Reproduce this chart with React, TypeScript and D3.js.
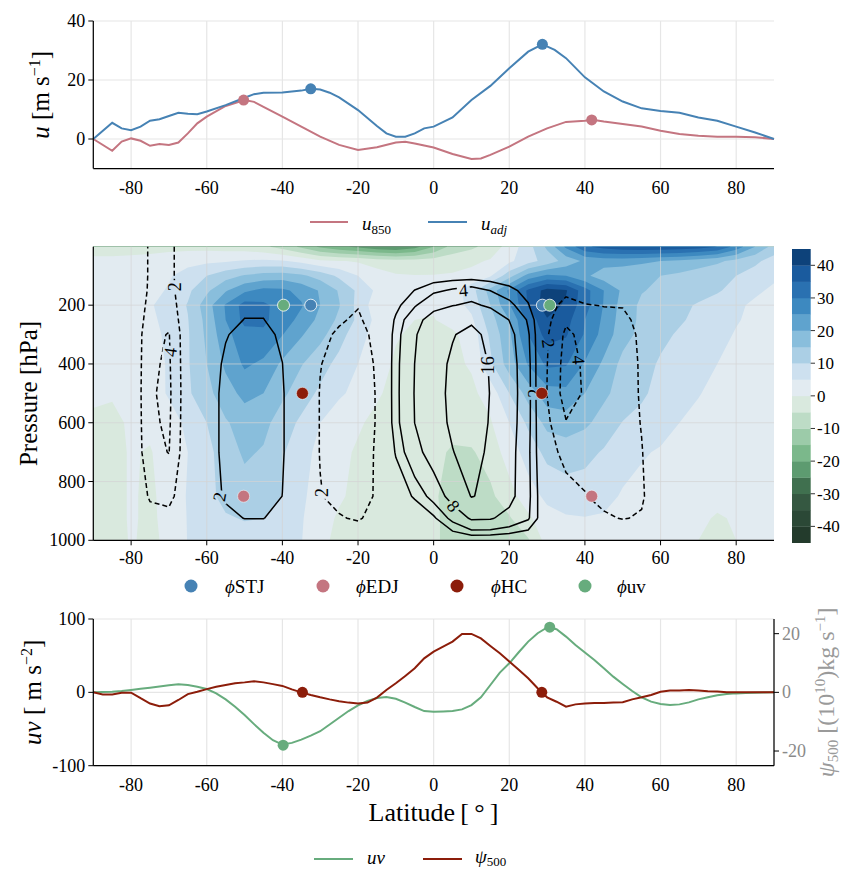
import React from "react";
import * as d3 from "d3";

const FONT = "'Liberation Serif', 'DejaVu Serif', serif";
const W = 845;
const H = 869;

const X_TICKS = [-80, -60, -40, -20, 0, 20, 40, 60, 80];
const TOP_YTICKS = [0, 20, 40];
const MID_YTICKS = [200, 400, 600, 800, 1000];
const BOT_YTICKS = [-100, 0, 100];
const BOT_RTICKS = [-20, 0, 20];
const CB_TICKS = [-40, -30, -20, -10, 0, 10, 20, 30, 40];

const C_U850 = "#c47580";
const C_UADJ = "#4682b4";
const C_HC = "#8c1d0a";
const C_UV = "#67ac7d";

// ---------------- top panel ----------------
const U850_LAT = [-90, -85, -82.5, -80, -77.5, -75, -72.5, -70, -67.5, -65, -62.5, -60, -55, -50, -47.5, -45, -40, -35, -30, -25, -20, -15, -10, -7.5, -5, 0, 5, 10, 12.5, 15, 20, 25, 30, 35, 40, 42, 45, 50, 55, 60, 65, 70, 75, 80, 85, 90];
const U850_VAL = [0, -4.0, -0.9, 0.2, -0.6, -2.3, -1.7, -2.0, -1.2, 1.9, 5.3, 7.6, 11.2, 13.2, 12.6, 10.9, 7.6, 4.2, 0.8, -2.0, -3.7, -2.8, -1.2, -0.9, -1.5, -2.9, -5.1, -6.8, -6.6, -5.4, -2.6, 0.8, 3.6, 5.8, 6.2, 6.5, 5.9, 5.1, 4.2, 2.8, 1.7, 1.1, 0.8, 0.8, 0.6, 0];
const UADJ_LAT = [-90, -85, -82.5, -80, -77.5, -75, -72.5, -70, -67.5, -65, -62.5, -60, -55, -50, -47.5, -45, -40, -35, -32.5, -30, -27.5, -25, -20, -15, -12.5, -10, -7.5, -5, -2.5, 0, 5, 10, 15, 20, 25, 28.75, 32, 35, 40, 45, 50, 55, 60, 65, 70, 75, 80, 85, 90];
const UADJ_VAL = [0, 5.5, 3.6, 3.0, 4.2, 6.2, 6.7, 7.8, 8.9, 8.6, 8.4, 9.3, 11.5, 14.0, 15.2, 15.7, 15.8, 16.4, 17.0, 16.8, 15.7, 14.1, 9.8, 4.4, 1.9, 0.8, 0.8, 1.9, 3.6, 4.2, 7.3, 13.2, 18.0, 24.0, 29.6, 32.1, 30.2, 27.4, 20.9, 16.1, 12.7, 10.4, 9.5, 8.9, 7.3, 6.2, 4.2, 2.2, 0];

const STJ_LAT = [-32.5, 28.75];
const STJ_U = [17.0, 32.1];
const EDJ_LAT = [-50.25, 41.8];
const EDJ_U = [13.2, 6.45];

// ---------------- middle panel ----------------
const STJ_P = 200;
const EDJ_P = 850;
const HC_LAT = [-34.7, 28.6];
const HC_P = 500;
const UVMAX_LAT = [-39.7, 30.7];
const UVMAX_P = 200;

const GRID_LAT = [-90, -85, -80, -75, -70, -65, -60, -55, -50, -45, -40, -35, -30, -25, -20, -15, -10, -5, 0, 5, 10, 15, 20, 25, 30, 35, 40, 45, 50, 55, 60, 65, 70, 75, 80, 85, 90];
const GRID_P = [1, 50, 100, 150, 200, 250, 300, 400, 500, 600, 700, 850, 925, 1000];

// zonal wind (shaded), rows = pressure levels, columns = latitudes
const U_FIELD = [
  [-1, -1, -1.5, -1.5, -1.5, -1.5, -1.5, -2, -2.5, -4, -7, -11, -16, -19, -21, -24, -25, -22, -15, -8, -6, -3, 2, 8, 16, 26, 34, 37, 38.5, 39, 39, 38.5, 37.5, 35, 28, 20, 13],
  [0.5, 0.5, 1, 1.5, 2.5, 3.5, 4, 4.5, 5.5, 6, 5.5, 3.5, 1, 0.3, -0.5, -2, -3, -3, -2.5, -2, -1, 0.5, 4, 8, 12, 17, 21, 22, 22, 21, 20, 19, 17.5, 16, 13.5, 11, 8],
  [1, 1, 1.5, 2.5, 4.5, 7, 10, 13, 15.5, 17, 17.5, 16, 13, 9, 5, 2, 0.5, 0.2, 0.2, 0.5, 1.5, 4.5, 13, 22, 26, 25, 21, 17.5, 16.5, 16, 15, 14, 12.5, 11, 10, 8, 6],
  [1.5, 2, 2.5, 3.5, 5.5, 9, 14, 19.5, 24, 26.5, 26, 23.5, 19.5, 14.5, 9, 4, 1.5, 0.5, 0.5, 2, 8, 17, 26, 36, 42, 40.5, 32, 25, 19, 15.3, 14, 13, 12, 10.5, 8.5, 6, 4],
  [1.5, 2, 3, 4.5, 7, 10.3, 17.7, 25.5, 32, 31, 28, 25.5, 20, 15.3, 8.5, 2, 1, 0.5, 0.5, 2.5, 6.5, 15, 24.5, 35.5, 43, 39, 32, 24.7, 18, 14, 12.5, 11.2, 9.5, 8, 6, 4, 3],
  [1.5, 2, 2.5, 4, 6.5, 9.8, 16.5, 25, 31.5, 31, 27.5, 23.5, 18.5, 14, 9, 3.5, 1, 0, -0.2, 1.5, 4, 13, 20, 31.5, 39.5, 37, 30, 24, 17.5, 14, 12.5, 10.5, 9, 7.5, 5.5, 3.5, 2.5],
  [1.5, 1.5, 2, 3.5, 6, 9.5, 16, 23.5, 28, 29, 25.2, 20.5, 16.5, 12, 7, 3, 0.3, -0.6, -0.8, -0.8, 2, 11, 19, 30, 37, 35.5, 29.5, 23, 17, 13.5, 11, 9.5, 8.5, 7, 4.5, 3.5, 2.5],
  [1, 1, 1.5, 3, 5.5, 9.5, 15, 21, 25.8, 24, 19, 15.3, 12, 8.5, 5, 1.5, -0.5, -1.2, -1.2, -1, 0.5, 9, 17.5, 25.5, 31, 30.5, 24.5, 19, 13.5, 11.5, 9.5, 8.5, 7, 5, 4, 3, 2],
  [0.3, 0.2, 0.8, 2.8, 5.5, 9.2, 13.5, 17.8, 21.5, 20, 16, 12.5, 9, 5.8, 3.5, 0.5, -1.2, -1.8, -2, -2, -1, 2, 10, 17, 23, 23.5, 20, 16, 13, 10.5, 9, 7, 5.2, 4, 3, 2, 1.5],
  [-0.3, -0.5, 0.3, 1, 3, 6, 10, 14.5, 17, 16.5, 12.5, 9, 5, 2, 0.5, -1, -1.8, -2.5, -3, -3.5, -2.5, -0.5, 5, 11, 16.5, 17.5, 16, 13, 9.8, 9, 7, 5, 4, 3, 2.5, 1.5, 1],
  [-0.8, -1, 0.3, -0.3, 2, 5, 8.5, 12.5, 15.8, 14.5, 10.5, 7, 3.5, 1, -0.5, -1.5, -2.5, -3.5, -4, -5.5, -5.5, -3, 2.5, 7, 11.5, 12.5, 11.5, 9.5, 7, 5.5, 4.5, 3.5, 3, 2.5, 2, 1.5, 1],
  [-1, -1, 0.3, -0.5, 1, 5.5, 8.5, 11.5, 12.8, 12.3, 9.8, 6, 2.5, 0.5, -1, -2, -3, -4, -4.5, -6.5, -7, -6, -2, 3, 6, 7.5, 7.5, 6.5, 4.5, 3.5, 3, 2.5, 2, 1.5, 1, 0.5, 0.5],
  [-1, -1, 0.3, -0.5, 0.8, 5.3, 7.5, 9.5, 10.3, 10, 8, 5.5, 1.5, -0.5, -1.5, -2.5, -3, -3.5, -4.5, -6, -7, -7, -5.5, -1, 3.5, 4.5, 4.8, 4.5, 3, 2.5, 2, 1.5, 1, -0.5, 0.5, 0.5, 0.3],
  [-1, -1, 0.2, -0.5, 0.5, 5.2, 7, 7.5, 8, 7.5, 6, 5.2, 1, -1, -2, -2.5, -3, -3.5, -4.5, -6, -7, -7.5, -7, -5.5, 2, 3, 3.5, 3, 2, 1.5, 1, 0.5, 0, -1, 0, 0.2, 0.2],
];

// streamfunction (contours), same grid
const PSI_FIELD = [
  [0, -0.42, 0, -2.28, -2.64, -0.36, 0, 0, 0, 0, 0, 0, 0, 0, 0, 0, 0, 0, 0, 0, 0, 0, 0, 0, 0, 0, 0, 0, 0, 0, 0, 0, 0, 0, 0, 0, 0],
  [0, -0.42, 0, -2.28, -2.64, -0.36, 0, 0, 0, 0, 0, 0, 0, 0, 0, 0, 0, 0, 0, 0, 0, 0, 0, 0, 0, 0, 0, 0, 0, 0, 0, 0, 0, 0, 0, 0, 0],
  [0, -0.42, 0, -2.28, -2.64, -0.36, 0.09, 0.2, 0.27, 0.27, 0.18, 0, -0.17, -0.24, -0.3, -0.14, 0.16, 0.41, 0.7, 0.87, 1.0, 0.79, 0.53, 0.24, -0.2, -0.49, -0.38, -0.35, -0.34, -0.17, 0.02, 0.06, 0.06, 0.04, 0, 0, 0],
  [0, -0.43, 0, -2.36, -2.73, -0.37, 0.28, 0.63, 0.85, 0.85, 0.55, 0, -0.53, -0.75, -0.95, -0.45, 0.78, 2.05, 3.48, 4.33, 4.98, 3.95, 2.63, 1.2, -0.6, -1.47, -1.14, -1.05, -1.02, -0.51, 0.06, 0.18, 0.18, 0.12, 0, 0, 0],
  [0, -0.49, 0, -2.66, -3.08, -0.42, 0.55, 1.25, 1.7, 1.7, 1.1, 0, -1.05, -1.5, -1.9, -0.9, 1.4, 3.69, 6.26, 7.79, 8.96, 7.11, 4.73, 2.16, -1.1, -2.7, -2.09, -1.93, -1.87, -0.94, 0.11, 0.33, 0.33, 0.22, 0, 0, 0],
  [0, -0.56, 0, -3.04, -3.52, -0.48, 0.66, 1.5, 2.04, 2.04, 1.32, 0, -1.26, -1.8, -2.28, -1.08, 2.33, 6.15, 10.4, 13.0, 14.9, 11.9, 7.88, 3.6, -1.5, -3.68, -2.85, -2.63, -2.55, -1.28, 0.15, 0.45, 0.45, 0.3, 0, 0, 0],
  [0, -0.65, 0, -3.53, -4.09, -0.56, 0.83, 1.88, 2.55, 2.55, 1.65, 0, -1.58, -2.25, -2.85, -1.35, 2.79, 7.38, 12.5, 15.6, 17.9, 14.2, 9.45, 4.32, -1.8, -4.41, -3.42, -3.15, -3.06, -1.53, 0.18, 0.54, 0.54, 0.36, 0, 0, 0],
  [0, -0.68, 0, -3.69, -4.27, -0.58, 1.01, 2.3, 3.13, 3.13, 2.02, 0, -1.93, -2.76, -3.5, -1.66, 3.04, 8.04, 13.6, 17.0, 19.5, 15.5, 10.3, 4.7, -1.96, -4.8, -3.72, -3.43, -3.33, -1.67, 0.2, 0.59, 0.59, 0.39, 0, 0, 0],
  [0, -0.7, 0, -3.8, -4.4, -0.6, 1.1, 2.5, 3.4, 3.4, 2.2, 0, -2.1, -3.0, -3.8, -1.8, 3.1, 8.2, 13.9, 17.3, 19.9, 15.8, 10.5, 4.8, -2.05, -4.9, -3.8, -3.5, -3.4, -1.7, 0.2, 0.6, 0.6, 0.4, 0, 0, 0],
  [0, -0.68, 0, -3.69, -4.27, -0.58, 1.1, 2.5, 3.4, 3.4, 2.2, 0, -2.1, -3.0, -3.8, -1.8, 3.04, 8.04, 13.6, 17.0, 19.5, 15.5, 10.3, 4.7, -1.6, -3.9, -3.2, -3.1, -3.1, -1.9, 0.1, 0.5, 0.48, 0.32, 0, 0, 0],
  [0, -0.64, 0, -3.5, -4.05, -0.55, 1.1, 2.5, 3.4, 3.4, 2.2, 0, -2.1, -3.0, -3.8, -1.6, 2.2, 6.2, 10.5, 15.8, 18.5, 14.8, 9.8, 4.5, -1.2, -2.6, -2.8, -2.9, -3.0, -2.1, -0.3, 0.4, 0.42, 0.28, 0, 0, 0],
  [0, -0.42, 0, -2.28, -2.64, -0.36, 0.99, 2.25, 3.06, 3.06, 1.98, 0, -1.89, -2.7, -3.42, -1.62, 0.5, 2.3, 5.0, 10, 16.3, 14.5, 9.5, 4.6, -0.6, -1.3, -1.9, -2.6, -2.8, -2.3, -0.3, 0.3, 0.33, 0.22, 0, 0, 0],
  [0, -0.21, 0, -1.14, -1.32, -0.18, 0.66, 1.5, 2.04, 2.04, 1.32, 0, -1.26, -1.8, -2.28, -1.08, -0.3, 0.2, 1.6, 4.8, 8.6, 8.4, 6.5, 4.3, -0.3, -0.6, -1, -1.7, -2.1, -1.8, -0.2, 0.2, 0.21, 0.14, 0, 0, 0],
  [0, 0, 0, 0, 0, 0, 0, 0, 0, 0, 0, 0, 0, 0, 0, 0, 0, 0, 0, 0, 0, 0, 0, 0, 0, 0, 0, 0, 0, 0, 0, 0, 0, 0, 0, 0, 0],
];

const U_LEVELS = [-45, -40, -35, -30, -25, -20, -15, -10, -5, 0, 5, 10, 15, 20, 25, 30, 35, 40];
const BAND_COLORS = [
  "#233b2c", "#2b4836", "#355841", "#40704f", "#5d9b70", "#7bb88b", "#9ccba9", "#bddcc6", "#d9e9de",
  "#e2ebf1", "#cde0ef", "#abcfe5", "#89bedc", "#5fa3ce", "#3d89c0", "#2a71b1", "#1a5b9e", "#0d427a",
];
const PSI_LEVELS = [-16, -8, -4, -2, 2, 4, 8, 16];

const CL_TEXT = ["2", "4", "2", "2", "4", "16", "8", "2", "4", "2"];
const CL_LAT = [-68.3, -69.6, -56.6, -29.5, 7.9, 14.3, 5.2, 30.3, 38.3, 26.8];
const CL_P = [137, 360, 852, 837, 150, 404, 884, 330, 386, 500];
const CL_ROT = [-90, -82, -80, -90, -5, -90, 50, 82, 85, -90];

// ---------------- bottom panel ----------------
const BOT_LAT = d3.range(-90, 90.01, 2.5);
const UV_VAL = [
  0, 0.4, 0.9, 1.8, 3.2, 4.8, 6.4, 8.0, 9.6, 10.9,
  10.0, 7.7, 4.5, -1.4, -9.6, -19.6, -31, -43.3, -55.2, -65.3,
  -71.2, -68.9, -64.4, -58.9, -53, -43.8, -34.7, -25.5, -17.8, -11.8,
  -7.7, -6.4, -8.7, -14, -20, -25.5, -26.4, -26, -25.5, -23.2,
  -17.3, -6.8, 10, 26.9, 39.6, 54.7, 69.2, 80.6, 88.5, 86,
  76, 64.6, 54.2, 44.2, 32.8, 21.4, 11.4, 1.8, -6.8, -12.7,
  -15.9, -17.3, -16.4, -13.7, -9.6, -6.8, -4.1, -2.3, -1.4, -0.9,
  -0.5, -0.2, 0,
];
const PSI500_VAL = [
  0, -0.7, -0.7, -0.1, -0.1, -2.0, -3.8, -4.7, -4.4, -2.6,
  -0.6, 0.2, 1.1, 1.9, 2.5, 3.1, 3.4, 3.8, 3.4, 2.8,
  2.2, 1.0, 0, -0.9, -1.7, -2.4, -3.0, -3.5, -3.8, -3.5,
  -1.8, 0.8, 3.1, 5.6, 8.2, 11.6, 13.9, 15.6, 17.3, 19.9,
  19.9, 18.4, 15.8, 13.3, 10.5, 7.7, 4.8, 1.4, -1.7, -3.2,
  -4.9, -4.1, -3.8, -3.6, -3.6, -3.5, -3.4, -2.4, -1.7, -0.9,
  0.2, 0.6, 0.6, 0.8, 0.6, 0.4, 0.3, 0, 0, 0,
  0, 0, 0,
];
const UV_MARK_LAT = [-39.8, 30.7];
const UV_MARK_VAL = [-72, 88.8];
const HC_MARK_VAL = [0, 0];

function interpArr(arr: number[], c: number) {
  const i = Math.max(0, Math.min(arr.length - 1, c - 0.5));
  const i0 = Math.floor(i);
  const i1 = Math.min(i0 + 1, arr.length - 1);
  const f = i - i0;
  return arr[i0] + f * (arr[i1] - arr[i0]);
}
function clampIdx(c: number, n: number) {
  return Math.max(0, Math.min(n - 1, c - 0.5));
}

export default function App() {
  const x = d3.scaleLinear().domain([-90, 90]).range([93.3, 774]);
  const yTop = d3.scaleLinear().domain([-10, 40]).range([168.5, 21]);
  const yMid = d3.scaleLinear().domain([1, 1000]).range([246.7, 540.3]);
  const yBotL = d3.scaleLinear().domain([-100, 100]).range([765.7, 619]);
  const yBotR = d3.scaleLinear().domain([-25, 25]).range([765.7, 619]);
  const yCb = d3.scaleLinear().domain([-45, 45]).range([542.7, 249]);

  const nx = GRID_LAT.length;
  const ny = GRID_P.length;
  const px = (cx: number) => x(interpArr(GRID_LAT, cx));
  const py = (cy: number) => yMid(interpArr(GRID_P, cy));

  const uValues = U_FIELD.flat();
  const psiValues = PSI_FIELD.flat();
  const uContours = d3.contours().size([nx, ny]).thresholds(U_LEVELS)(uValues);
  const psiContours = d3.contours().size([nx, ny]).thresholds(PSI_LEVELS)(psiValues);

  const fillPath = (mp: number[][][][]) =>
    mp
      .map((poly) =>
        poly
          .map((ring) => "M" + ring.map(([cx, cy]) => `${px(cx).toFixed(2)},${py(cy).toFixed(2)}`).join("L") + "Z")
          .join("")
      )
      .join("");

  const linePath = (mp: number[][][][]) => {
    let d = "";
    for (const poly of mp) {
      for (const ring of poly) {
        const pts = ring.map(([cx, cy]) => ({
          ix: clampIdx(cx, nx),
          iy: clampIdx(cy, ny),
          X: px(cx),
          Y: py(cy),
        }));
        let pen = false;
        for (let k = 0; k < pts.length - 1; k++) {
          const a = pts[k];
          const b = pts[k + 1];
          const onB =
            (a.ix === 0 && b.ix === 0) ||
            (a.ix === nx - 1 && b.ix === nx - 1) ||
            (a.iy === 0 && b.iy === 0) ||
            (a.iy === ny - 1 && b.iy === ny - 1);
          if (onB) {
            pen = false;
            continue;
          }
          if (!pen) {
            d += `M${a.X.toFixed(2)},${a.Y.toFixed(2)}`;
            pen = true;
          }
          d += `L${b.X.toFixed(2)},${b.Y.toFixed(2)}`;
        }
      }
    }
    return d;
  };

  const topLine = d3.line<[number, number]>().x((d) => x(d[0])).y((d) => yTop(d[1]));
  const botLineL = d3.line<[number, number]>().x((d) => x(d[0])).y((d) => yBotL(d[1]));
  const botLineR = d3.line<[number, number]>().x((d) => x(d[0])).y((d) => yBotR(d[1]));

  const xL = 93.3;
  const xR = 774;
  const tickFs = 18;
  const gridC = "#e6e6e6";

  const xTickLabels = (baseY: number) =>
    X_TICKS.map((t) => (
      <text key={t} x={x(t)} y={baseY} textAnchor="middle" fontSize={tickFs}>
        {t < 0 ? "-" + Math.abs(t) : String(t)}
      </text>
    ));

  return (
    <svg
      width={W}
      height={H}
      style={{ position: "absolute", left: 0, top: 0, background: "#fff" }}
      fontFamily={FONT}
    >
      <defs>
        <mask id="clab" maskUnits="userSpaceOnUse" x={0} y={0} width={W} height={H}>
          <rect x={0} y={0} width={W} height={H} fill="white" />
          {CL_TEXT.map((t, i) => {
            const w = t.length > 1 ? 22 : 13;
            return (
              <rect
                key={i}
                x={-w / 2}
                y={-8}
                width={w}
                height={16}
                fill="black"
                transform={`translate(${x(CL_LAT[i])},${yMid(CL_P[i])}) rotate(${CL_ROT[i]})`}
              />
            );
          })}
        </mask>
      </defs>

      {/* ================= TOP PANEL ================= */}
      <g>
        {X_TICKS.map((t) => (
          <line key={t} x1={x(t)} x2={x(t)} y1={yTop(40)} y2={yTop(-10)} stroke={gridC} strokeWidth={1.2} />
        ))}
        {TOP_YTICKS.map((t) => (
          <line key={t} x1={xL} x2={xR} y1={yTop(t)} y2={yTop(t)} stroke={gridC} strokeWidth={1.2} />
        ))}
        <path d={topLine(d3.zip(U850_LAT, U850_VAL) as [number, number][]) || ""} fill="none" stroke={C_U850} strokeWidth={2} />
        <path d={topLine(d3.zip(UADJ_LAT, UADJ_VAL) as [number, number][]) || ""} fill="none" stroke={C_UADJ} strokeWidth={2} />
        {EDJ_LAT.map((l, i) => (
          <circle key={"e" + i} cx={x(l)} cy={yTop(EDJ_U[i])} r={5.5} fill={C_U850} />
        ))}
        {STJ_LAT.map((l, i) => (
          <circle key={"s" + i} cx={x(l)} cy={yTop(STJ_U[i])} r={5.5} fill={C_UADJ} />
        ))}
        <line x1={xL} x2={xL} y1={yTop(40)} y2={yTop(-10)} stroke="#000" strokeWidth={1.25} />
        <line x1={xL} x2={xR} y1={yTop(-10)} y2={yTop(-10)} stroke="#000" strokeWidth={1.25} />
        {TOP_YTICKS.map((t) => (
          <g key={t}>
            <line x1={xL - 5} x2={xL} y1={yTop(t)} y2={yTop(t)} stroke="#000" strokeWidth={1} />
            <text x={xL - 8} y={yTop(t) + 6} textAnchor="end" fontSize={tickFs}>
              {t}
            </text>
          </g>
        ))}
        {xTickLabels(194)}
        <text transform={`translate(49,${(yTop(40) + yTop(-10)) / 2}) rotate(-90)`} textAnchor="middle" fontSize={25}>
          <tspan fontStyle="italic">u</tspan>
          <tspan> [m s</tspan>
          <tspan dy={-9} fontSize={16}>−1</tspan>
          <tspan dy={9}>]</tspan>
        </text>
        {/* legend */}
        <line x1={310} x2={348} y1={222} y2={222} stroke={C_U850} strokeWidth={2} />
        <text x={362} y={230} fontSize={19}>
          <tspan fontStyle="italic">u</tspan>
          <tspan dy={4} fontSize={13}>850</tspan>
        </text>
        <line x1={428} x2={467} y1={222} y2={222} stroke={C_UADJ} strokeWidth={2} />
        <text x={481} y={230} fontSize={19}>
          <tspan fontStyle="italic">u</tspan>
          <tspan dy={4} fontSize={13} fontStyle="italic">adj</tspan>
        </text>
      </g>

      {/* ================= MIDDLE PANEL ================= */}
      <g>
        {uContours.map((c, i) => (
          <path key={i} d={fillPath(c.coordinates as any)} fill={BAND_COLORS[i]} fillRule="evenodd" stroke="none" />
        ))}
        {X_TICKS.map((t) => (
          <line key={t} x1={x(t)} x2={x(t)} y1={yMid(1)} y2={yMid(1000)} stroke="#d4d4d4" strokeOpacity={0.7} strokeWidth={1} />
        ))}
        {MID_YTICKS.map((t) => (
          <line key={t} x1={xL} x2={xR} y1={yMid(t)} y2={yMid(t)} stroke="#d4d4d4" strokeOpacity={0.7} strokeWidth={1} />
        ))}
        <g mask="url(#clab)">
          {psiContours.map((c, i) => (
            <path
              key={i}
              d={linePath(c.coordinates as any)}
              fill="none"
              stroke="#000"
              strokeWidth={1.5}
              strokeDasharray={PSI_LEVELS[i] < 0 ? "5,3" : undefined}
            />
          ))}
        </g>
        {CL_TEXT.map((t, i) => (
          <text
            key={i}
            transform={`translate(${x(CL_LAT[i])},${yMid(CL_P[i])}) rotate(${CL_ROT[i]})`}
            textAnchor="middle"
            dominantBaseline="central"
            fontSize={18}
          >
            {t}
          </text>
        ))}
        {STJ_LAT.map((l, i) => (
          <circle key={"s" + i} cx={x(l)} cy={yMid(STJ_P)} r={6} fill={C_UADJ} stroke="#fff" strokeWidth={0.8} />
        ))}
        {EDJ_LAT.map((l, i) => (
          <circle key={"e" + i} cx={x(l)} cy={yMid(EDJ_P)} r={6} fill={C_U850} stroke="#fff" strokeWidth={0.5} />
        ))}
        {HC_LAT.map((l, i) => (
          <circle key={"h" + i} cx={x(l)} cy={yMid(HC_P)} r={6} fill={C_HC} stroke="#fff" strokeWidth={0.5} />
        ))}
        {UVMAX_LAT.map((l, i) => (
          <circle key={"u" + i} cx={x(l)} cy={yMid(UVMAX_P)} r={6} fill={C_UV} stroke="#fff" strokeWidth={0.8} />
        ))}
        <line x1={xL} x2={xL} y1={yMid(1)} y2={yMid(1000)} stroke="#000" strokeWidth={1.25} />
        <line x1={xL} x2={xR} y1={yMid(1000)} y2={yMid(1000)} stroke="#000" strokeWidth={1.25} />
        {MID_YTICKS.map((t) => (
          <g key={t}>
            <line x1={xL - 5} x2={xL} y1={yMid(t)} y2={yMid(t)} stroke="#000" strokeWidth={1} />
            <text x={xL - 8} y={yMid(t) + 6} textAnchor="end" fontSize={tickFs}>
              {t}
            </text>
          </g>
        ))}
        {X_TICKS.map((t) => (
          <line key={t} x1={x(t)} x2={x(t)} y1={yMid(1000)} y2={yMid(1000) + 5} stroke="#000" strokeWidth={1} />
        ))}
        {xTickLabels(564)}
        <text transform={`translate(37,${(yMid(1) + yMid(1000)) / 2}) rotate(-90)`} textAnchor="middle" fontSize={25}>
          Pressure [hPa]
        </text>
        {/* colorbar */}
        {U_LEVELS.map((t, i) => (
          <rect key={t} x={792} width={18.7} y={yCb(t + 5)} height={yCb(t) - yCb(t + 5) + 0.3} fill={BAND_COLORS[i]} />
        ))}
        {CB_TICKS.map((t) => (
          <g key={t}>
            <line x1={810.7} x2={815} y1={yCb(t)} y2={yCb(t)} stroke="#000" strokeWidth={0.8} />
            <text x={817} y={yCb(t) + 6} fontSize={17}>
              {t < 0 ? "-" + Math.abs(t) : String(t)}
            </text>
          </g>
        ))}
        {/* legend */}
        {[
          { c: C_UADJ, cx: 191, tx: 225, s: "STJ" },
          { c: C_U850, cx: 323, tx: 356, s: "EDJ" },
          { c: C_HC, cx: 457, tx: 491, s: "HC" },
          { c: C_UV, cx: 585, tx: 617, s: "uv" },
        ].map((l) => (
          <g key={l.s}>
            <circle cx={l.cx} cy={586} r={6.5} fill={l.c} />
            <text x={l.tx} y={593} fontSize={19}>
              <tspan fontStyle="italic">ϕ</tspan>
              {l.s}
            </text>
          </g>
        ))}
      </g>

      {/* ================= BOTTOM PANEL ================= */}
      <g>
        {X_TICKS.map((t) => (
          <line key={t} x1={x(t)} x2={x(t)} y1={yBotL(100)} y2={yBotL(-100)} stroke={gridC} strokeWidth={1.2} />
        ))}
        {BOT_YTICKS.map((t) => (
          <line key={t} x1={xL} x2={xR} y1={yBotL(t)} y2={yBotL(t)} stroke={gridC} strokeWidth={1.2} />
        ))}
        <path d={botLineL(d3.zip(BOT_LAT, UV_VAL) as [number, number][]) || ""} fill="none" stroke={C_UV} strokeWidth={2} />
        {UV_MARK_LAT.map((l, i) => (
          <circle key={"u" + i} cx={x(l)} cy={yBotL(UV_MARK_VAL[i])} r={5.5} fill={C_UV} />
        ))}
        <path d={botLineR(d3.zip(BOT_LAT, PSI500_VAL) as [number, number][]) || ""} fill="none" stroke={C_HC} strokeWidth={2} />
        {HC_LAT.map((l, i) => (
          <circle key={"h" + i} cx={x(l)} cy={yBotR(HC_MARK_VAL[i])} r={5.5} fill={C_HC} />
        ))}
        <line x1={xL} x2={xL} y1={yBotL(100)} y2={yBotL(-100)} stroke="#000" strokeWidth={1.25} />
        <line x1={xR} x2={xR} y1={yBotL(100)} y2={yBotL(-100)} stroke="#000" strokeWidth={1.25} />
        <line x1={xL} x2={xR} y1={yBotL(-100)} y2={yBotL(-100)} stroke="#000" strokeWidth={1.25} />
        {BOT_YTICKS.map((t) => (
          <g key={t}>
            <line x1={xL - 5} x2={xL} y1={yBotL(t)} y2={yBotL(t)} stroke="#000" strokeWidth={1} />
            <text x={xL - 8} y={yBotL(t) + 6} textAnchor="end" fontSize={tickFs}>
              {t < 0 ? "-" + Math.abs(t) : String(t)}
            </text>
          </g>
        ))}
        {BOT_RTICKS.map((t) => (
          <g key={t}>
            <line x1={xR} x2={xR + 5} y1={yBotR(t)} y2={yBotR(t)} stroke="#000" strokeWidth={1} />
            <text x={xR + 8} y={yBotR(t) + 6} textAnchor="start" fontSize={tickFs} fill="#8a8a8a">
              {t < 0 ? "-" + Math.abs(t) : String(t)}
            </text>
          </g>
        ))}
        {xTickLabels(791)}
        <text transform={`translate(41,${(yBotL(100) + yBotL(-100)) / 2}) rotate(-90)`} textAnchor="middle" fontSize={25}>
          <tspan fontStyle="italic">uv</tspan>
          <tspan> [ m s</tspan>
          <tspan dy={-9} fontSize={16}>−2</tspan>
          <tspan dy={9}>]</tspan>
        </text>
        <text
          transform={`translate(834,${(yBotL(100) + yBotL(-100)) / 2}) rotate(-90)`}
          textAnchor="middle"
          fontSize={24}
          fill="#9a9a9a"
        >
          <tspan fontStyle="italic">ψ</tspan>
          <tspan dy={4} fontSize={15}>500</tspan>
          <tspan dy={-4}> [(10</tspan>
          <tspan dy={-9} fontSize={15}>10</tspan>
          <tspan dy={9}>)kg s</tspan>
          <tspan dy={-9} fontSize={15}>−1</tspan>
          <tspan dy={9}>]</tspan>
        </text>
        <text x={433.5} y={821} textAnchor="middle" fontSize={26}>
          {"Latitude\u2009[\u2009°\u2009]"}
        </text>
        {/* legend */}
        <line x1={314} x2={353} y1={859} y2={859} stroke={C_UV} strokeWidth={2} />
        <text x={367} y={864} fontSize={19} fontStyle="italic">
          uv
        </text>
        <line x1={423} x2={462} y1={859} y2={859} stroke={C_HC} strokeWidth={2} />
        <text x={475} y={863} fontSize={19}>
          <tspan fontStyle="italic">ψ</tspan>
          <tspan dy={3} fontSize={13}>500</tspan>
        </text>
      </g>
    </svg>
  );
}
